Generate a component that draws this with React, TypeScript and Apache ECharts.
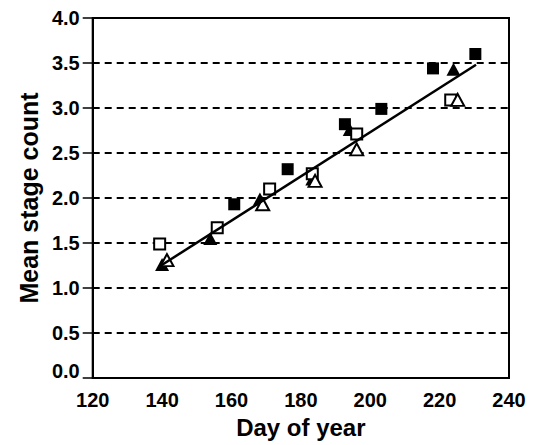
import React, { useEffect, useRef } from "react";
import * as echarts from "echarts";

const filledSquares: [number, number][] = [
  [160.8, 1.93], [176.2, 2.32], [192.7, 2.82], [203.2, 2.99], [218.1, 3.44], [230.3, 3.6],
];
const filledTriangles: [number, number][] = [
  [140.0, 1.26], [153.9, 1.55], [168.2, 1.99], [183.3, 2.21], [194.1, 2.76], [224.0, 3.43],
];
const openSquares: [number, number][] = [
  [139.3, 1.49], [155.9, 1.67], [171.0, 2.1], [183.3, 2.27], [196.1, 2.71], [223.2, 3.09],
];
const openTriangles: [number, number][] = [
  [141.4, 1.31], [169.0, 1.93], [184.1, 2.19], [196.1, 2.54], [225.2, 3.09],
];
const fitLine: [number, number][] = [
  [139.7, 1.25], [230.5, 3.48],
];

const xTicks = { min: 120, max: 240, interval: 20 };
const yTicks = { min: 0, max: 4, interval: 0.5 };

export default function App() {
  const ref = useRef<HTMLDivElement>(null);
  useEffect(() => {
    if (!ref.current) return;
    const chart = echarts.init(ref.current, null, { renderer: "svg" });
    const font = "Liberation Sans, Arial, sans-serif";
    const labelStyle = { fontFamily: font, fontWeight: "bold", fontSize: 20, color: "#000" };
    chart.setOption({
      animation: false,
      backgroundColor: "#fff",
      grid: {
        left: 80, right: 26, top: 8, bottom: 67,
        show: true, borderColor: "#000", borderWidth: 2, backgroundColor: "transparent",
      },
      xAxis: {
        type: "value",
        ...xTicks,
        name: "Day of year",
        nameLocation: "middle",
        nameGap: 37,
        nameTextStyle: { fontFamily: font, fontWeight: "bold", fontSize: 24, color: "#000" },
        axisLine: { show: true, lineStyle: { color: "#000", width: 2 } },
        axisTick: { show: false },
        splitLine: { show: false },
        axisLabel: { ...labelStyle, margin: 12 },
      },
      yAxis: [
        {
          type: "value",
          ...yTicks,
          name: "Mean stage count",
          nameLocation: "middle",
          nameGap: 51,
          nameTextStyle: { fontFamily: font, fontWeight: "bold", fontSize: 25, color: "#000" },
          axisLine: { show: true, lineStyle: { color: "#000", width: 2 } },
          axisTick: { show: true, length: 10, lineStyle: { color: "#000", width: 1.5 } },
          splitLine: { show: true, lineStyle: { color: "#000", width: 2, type: [7, 5] } },
          axisLabel: {
            ...labelStyle, margin: 13,
            formatter: (v: number) => (v === 0 ? "{z|0.0}" : v.toFixed(1)),
            rich: { z: { ...labelStyle, padding: [0, 0, 14, 0] } },
          },
        },
        {
          type: "value",
          ...yTicks,
          position: "left",
          axisLine: { show: false },
          axisTick: { show: true, inside: true, length: 6, lineStyle: { color: "#000", width: 1.5 } },
          splitLine: { show: false },
          axisLabel: { show: false },
        },
      ],
      series: [
        {
          type: "scatter", name: "filled squares", data: filledSquares, symbol: "rect", symbolSize: 12,
          itemStyle: { color: "#000", opacity: 1 }, z: 3,
        },
        {
          type: "scatter", name: "filled triangles", data: filledTriangles, symbol: "triangle", symbolSize: [14, 13],
          itemStyle: { color: "#000", opacity: 1 }, z: 3,
        },
        {
          type: "scatter", name: "open squares", data: openSquares, symbol: "rect", symbolSize: 11,
          itemStyle: { color: "#fff", borderColor: "#000", borderWidth: 2, opacity: 1 }, z: 4,
        },
        {
          type: "scatter", name: "open triangles", data: openTriangles, symbol: "triangle", symbolSize: [13, 12],
          itemStyle: { color: "#fff", borderColor: "#000", borderWidth: 2, opacity: 1 }, z: 4,
        },
        {
          type: "line", name: "fit", data: fitLine, symbol: "none",
          lineStyle: { color: "#000", width: 2.5 }, z: 5,
        },
      ],
    });
    return () => chart.dispose();
  }, []);
  return <div ref={ref} style={{ width: 527, height: 437 }} />;
}
